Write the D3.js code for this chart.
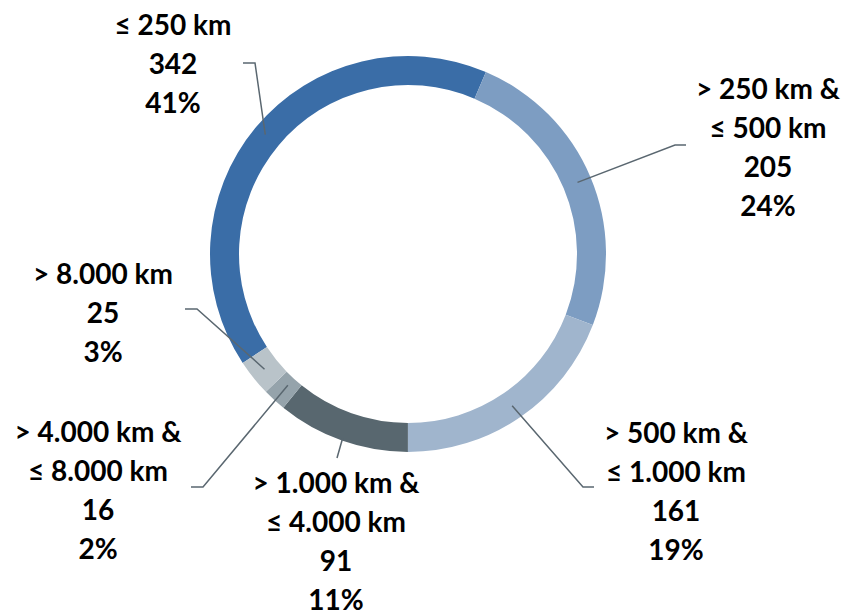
<!DOCTYPE html>
<html><head><meta charset="utf-8">
<script src="https://cdn.jsdelivr.net/npm/d3@7"></script>
<style>html,body{margin:0;padding:0;background:#fff}svg{display:block}</style>
</head><body>
<svg id="c" width="843" height="610"></svg>
<script>
// ---- data ----
const categories = [
  ["≤ 250 km"],
  ["> 250 km &", "≤ 500 km"],
  ["> 500 km &", "≤ 1.000 km"],
  ["> 1.000 km &", "≤ 4.000 km"],
  ["> 4.000 km &", "≤ 8.000 km"],
  ["> 8.000 km"]
];
const values = [342, 205, 161, 91, 16, 25];
const colors = ["#3A6DA7", "#7D9DC2", "#A0B5CD", "#58676F", "#95A3AB", "#B9C3C9"];

// ---- layout (label placement) ----
const labelPos = [ // text centre x, first-line centre y
  [173, 25], [768, 89], [676, 433], [336, 483], [98, 432], [103, 274]
];
const leader = [ // [radius at ring end, elbow, outer end]
  [186, [255, 63], [243, 63]],
  [184, [675, 145], [686, 145]],
  [184, [583, 487], [594, 487]],
  [196, null, [337, 458]],
  [178, [203, 487], [191, 487]],
  [184, [197, 309], [185, 309]]
];

const cx = 408, cy = 254, R = 198, r = 169;
const total = d3.sum(values);
const start = -(123.4) * Math.PI / 180;

const svg = d3.select("#c");
const g = svg.append("g").attr("transform", `translate(${cx},${cy})`);

const pie = d3.pie().sort(null).value(d => d)
  .startAngle(start).endAngle(start + 2 * Math.PI);
const arcs = pie(values);
const arc = d3.arc().innerRadius(r).outerRadius(R);

g.selectAll("path.s").data(arcs).enter().append("path")
  .attr("class", "s").attr("d", arc)
  .attr("fill", (d, i) => colors[i]);

// leader lines
arcs.forEach((a, i) => {
  const [rr, elbow, end] = leader[i];
  const p = d3.arc().innerRadius(rr).outerRadius(rr).centroid(a);
  const pts = [[p[0] + cx, p[1] + cy]];
  if (elbow) pts.push(elbow);
  pts.push(end);
  svg.append("path").attr("d", d3.line()(pts))
    .attr("fill", "none").attr("stroke", "#5A6770").attr("stroke-width", 1.5);
});

// labels
const fmtPct = v => Math.round(v / total * 100) + "%";
arcs.forEach((a, i) => {
  const lines = categories[i].concat([String(values[i]), fmtPct(values[i])]);
  const [x, y] = labelPos[i];
  const t = svg.append("text")
    .attr("text-anchor", "middle")
    .attr("font-family", "Lato, 'Open Sans', sans-serif")
    .attr("font-weight", "bold")
    .attr("font-size", 28)
    .attr("fill", "#000");
  lines.forEach((ln, k) => {
    t.append("tspan").attr("x", x).attr("y", y + k * 39)
      .attr("dy", "0.35em").text(ln);
  });
});
</script>
</body></html>
